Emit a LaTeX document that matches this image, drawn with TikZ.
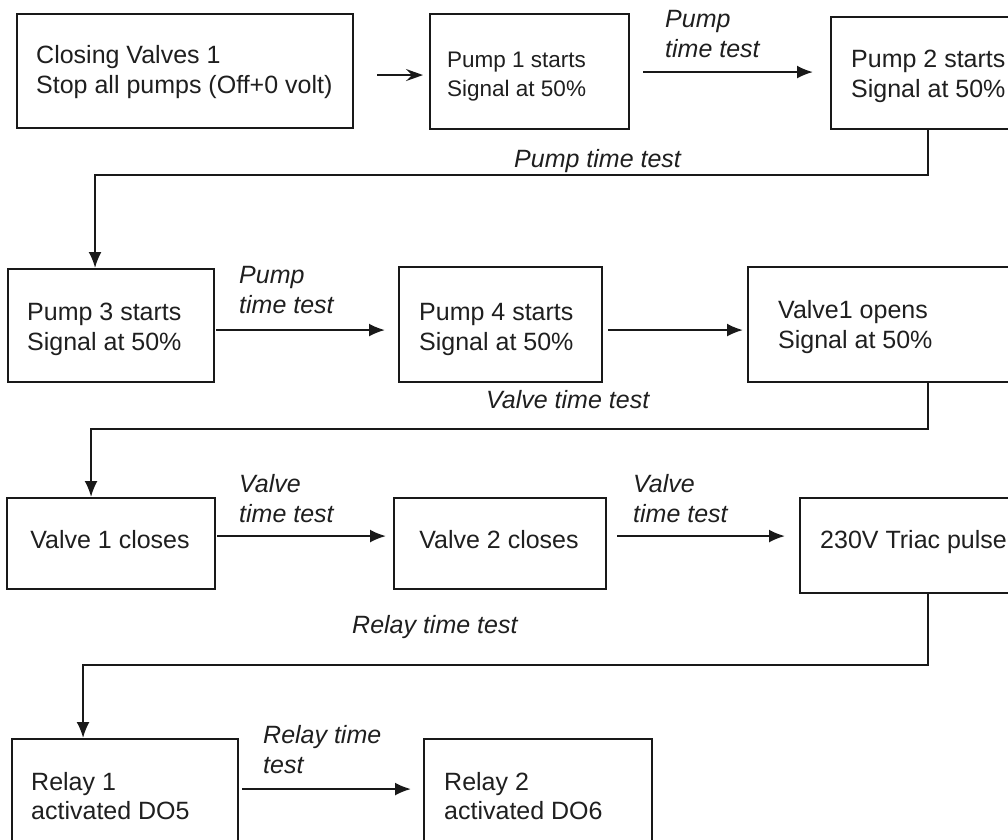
\documentclass[tikz,border=0pt]{standalone}
\usepackage{fontspec}
\setmainfont{Liberation Sans}
\usetikzlibrary{arrows.meta,calc}
\begin{document}
\begin{tikzpicture}[x=1pt,y=-1pt,
  box/.style={draw=black!90,line width=2.1pt,inner sep=0pt,anchor=north west},
  txt/.style={anchor=base west,align=left,inner sep=0pt,text=black!88,
    font=\fontsize{25}{30}\selectfont},
  lbl/.style={txt,font=\fontsize{25}{30}\selectfont\itshape},
  arr/.style={draw=black!90,line width=2.1pt,-{Latex[length=16pt,width=13pt]}},
  firstarr/.style={draw=black!90,line width=2.1pt,-{Stealth[length=17pt,width=12pt,inset=6pt]}}]
\useasboundingbox (0,0) rectangle (1008,839);
\clip (0,0) rectangle (1008,839);
\fill[white] (0,0) rectangle (1008,839);

% row 1 (multi-line texts are placed by the baseline of their last line)
\node[box,minimum width=336,minimum height=114] (A) at (16,13) {};
\node[txt] (At) at (36,93) {Closing Valves 1\\Stop all pumps (Off+0 volt)};
\node[box,minimum width=199,minimum height=115] (B) at (429,13) {};
\node[txt,font=\fontsize{22.5}{29}\selectfont] (Bt) at (447,96) {Pump 1 starts\\Signal at 50\%};
\node[box,minimum width=194,minimum height=112] (C) at (830,16) {};
\node[txt] (Ct) at (851,97) {Pump 2 starts\\Signal at 50\%};
\node[lbl] (L1) at (665,57) {Pump\\time test};

% row 2
\node[box,minimum width=206,minimum height=113] (D) at (7,268) {};
\node[txt] (Dt) at (27,350) {Pump 3 starts\\Signal at 50\%};
\node[box,minimum width=203,minimum height=115] (E) at (398,266) {};
\node[txt] (Et) at (419,350) {Pump 4 starts\\Signal at 50\%};
\node[box,minimum width=360,minimum height=115] (F) at (747,266) {};
\node[txt] (Ft) at (778,348) {Valve1 opens\\Signal at 50\%};
\node[lbl] (L2) at (514,167) {Pump time test};
\node[lbl] (L3) at (239,313) {Pump\\time test};

% row 3
\node[box,minimum width=208,minimum height=91] (G) at (6,497) {};
\node[txt,anchor=base] (Gt) at (110,548) {Valve 1 closes};
\node[box,minimum width=212,minimum height=91] (H) at (393,497) {};
\node[txt,anchor=base] (Ht) at (499,548) {Valve 2 closes};
\node[box,minimum width=256,minimum height=95] (I) at (799,497) {};
\node[txt] (It) at (820,548) {230V Triac pulse};
\node[lbl] (L4) at (486,408) {Valve time test};
\node[lbl] (L5) at (239,522) {Valve\\time test};
\node[lbl] (L6) at (633,522) {Valve\\time test};

% row 4
\node[box,minimum width=226,minimum height=124] (J) at (11,738) {};
\node[txt,font=\fontsize{25}{29}\selectfont] (Jt) at (31,819) {Relay 1\\activated DO5};
\node[box,minimum width=228,minimum height=124] (K) at (423,738) {};
\node[txt,font=\fontsize{25}{29}\selectfont] (Kt) at (444,819) {Relay 2\\activated DO6};
\node[lbl] (L7) at (352,633) {Relay time test};
\node[lbl] (L8) at (263,773) {Relay time\\test};

% connectors
\draw[firstarr] ($(A.east)+(23,4)$) -- ($(B.west)+(-6,3.5)$);
\draw[arr] ($(B.east)+(13,0.5)$) -- ($(C.west)+(-17,-1)$);
\draw[arr] (C.south) -- ++(0,45) -| ([xshift=-16pt]D.north);
\draw[arr] ($(D.east)+(1,4.5)$) -- ($(E.west)+(-13,5.5)$);
\draw[arr] ($(E.east)+(5,5.5)$) -- ($(F.west)+(-4,5.5)$);
\draw[arr] (F.south) -- ++(0,46) -| ([xshift=-20pt]G.north);
\draw[arr] ($(G.east)+(1,-7.5)$) -- ($(H.west)+(-7,-7.5)$);
\draw[arr] ($(H.east)+(10,-7.5)$) -- ($(I.west)+(-14,-9.5)$);
\draw[arr] (I.south) -- ++(0,71) -| ([xshift=-42pt]J.north);
\draw[arr] ($(J.east)+(3,-12)$) -- ($(K.west)+(-12,-12)$);
\end{tikzpicture}
\end{document}
